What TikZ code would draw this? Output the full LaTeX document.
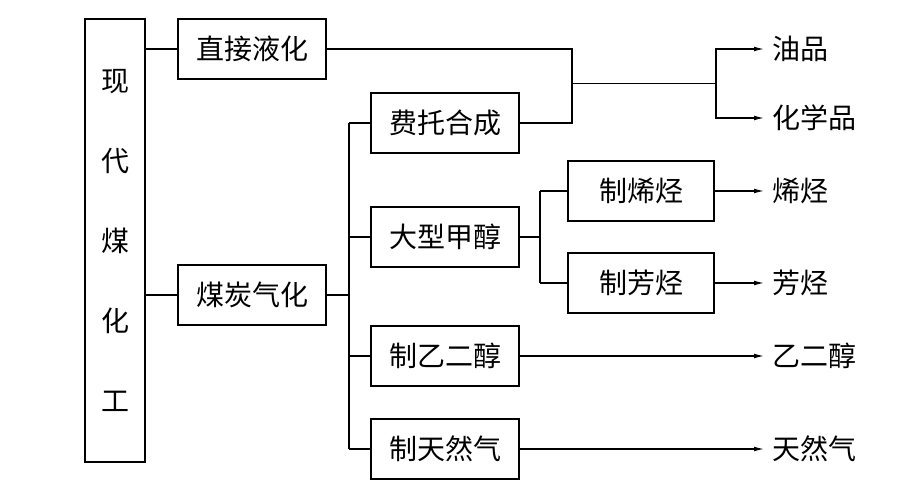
\documentclass[tikz,border=0pt]{standalone}
\usepackage{fontspec}
\setmainfont{Noto Sans CJK SC}
\usepackage{tikz}
\usetikzlibrary{arrows.meta,positioning,calc}

\begin{document}
\begin{tikzpicture}[font=\fontsize{14pt}{17pt}\selectfont,line width=0.6pt,>={Latex[length=5pt,width=2.4pt]}]
        \tikzstyle{b}=[draw,line width=0.9pt,minimum width=74pt,minimum height=30pt,inner sep=0pt,outer sep=0pt]
        \tikzstyle{tb}=[draw,line width=0.9pt,minimum width=30pt,minimum height=221.5pt,outer sep=0pt,align=center,font=\fontsize{14pt}{40pt}\selectfont]
        \tikzstyle{res}=[anchor=west,inner sep=4pt,outer sep=0pt]
        \useasboundingbox (0,0) rectangle (461pt,-245.5pt);
        \node[tb,anchor=north west] (xd) at (42.5pt,-9.5pt) {现\\代\\煤\\化\\工};
        \node[b,right=16.5pt of xd.north east,anchor=north west] (zj) {直接液化};
        \node[b,below=93pt of zj] (mt) {煤炭气化};
        \node[b,below right=7pt and 22.5pt of zj.south east] (ft) {费托合成};
        \node[b,below=27pt of ft] (jc) {大型甲醇};
        \node[b,below=29.5pt of jc] (yr) {制乙二醇};
        \node[b,below=16.5pt of yr] (tr) {制天然气};
        \node[b,minimum width=73pt,right=24.5pt of jc.east,yshift=23pt] (xt) {制烯烃};
        \node[b,minimum width=73pt,below=16pt of xt] (xf) {制芳烃};
        % products
        \node[res,right=25pt of xt] (xtr) {烯烃};
        \node[res,right=25pt of xf] (xfr) {芳烃};
        \node[res] (yer) at (yr -| xtr.west) {乙二醇};
        \node[res] (trr) at (tr -| xtr.west) {天然气};
        \node[res] (yp) at (zj -| xtr.west) {油品};
        \node[res,below=34.5pt of yp.west,anchor=west] (hxp) {化学品};
        % left box to the two routes
        \draw (xd.east |- zj) -- (zj.west);
        \draw (xd.east |- mt) -- (mt.west);
        % gasification spine
        \coordinate (s1) at ($(mt.east)+(11.5pt,0)$);
        \draw (mt.east) -- (s1);
        \draw (s1 |- ft) -- (s1 |- tr);
        \draw (s1 |- ft) -- (ft.west);
        \draw (s1 |- jc) -- (jc.west);
        \draw (s1 |- yr) -- (yr.west);
        \draw (s1 |- tr) -- (tr.west);
        % methanol spine
        \coordinate (s2) at ($(jc.east)+(10.5pt,0)$);
        \draw (jc.east) -- (s2);
        \draw (s2 |- xt) -- (s2 |- xf);
        \draw (s2 |- xt) -- (xt.west);
        \draw (s2 |- xf) -- (xf.west);
        % liquid fuels and chemicals
        \coordinate (j1) at ($(ft.east)+(26.5pt,0)$);
        \draw (zj.east) -| (j1) -- (ft.east);
        \coordinate (j2) at ($(yp.west)!0.5!(hxp.west)+(-24pt,0)$);
        \draw (j1 |- j2) -- (j2);
        \draw[->] (j2) |- (yp.west);
        \draw[->] (j2) |- (hxp.west);
        \draw[->] (xt.east) -- (xtr.west);
        \draw[->] (xf.east) -- (xfr.west);
        \draw[->] (yr.east) -- (yer.west);
        \draw[->] (tr.east) -- (trr.west);
      \end{tikzpicture}
\end{document}
